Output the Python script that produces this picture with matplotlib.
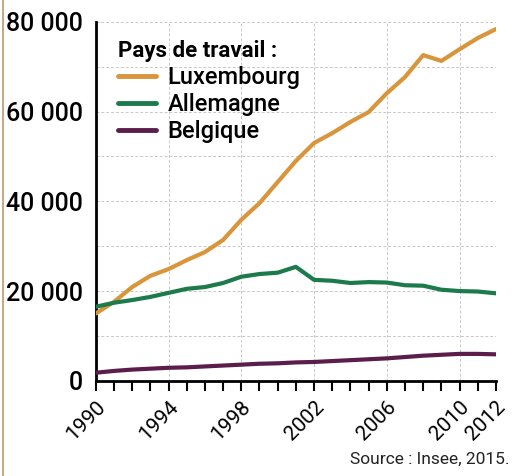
import numpy as np
import matplotlib.pyplot as plt
from matplotlib.ticker import FuncFormatter, MultipleLocator, FixedLocator
from matplotlib.lines import Line2D

plt.rcParams['font.family'] = ['Roboto', 'DejaVu Sans']

# Data (frontaliers by country of work)
years = list(range(1990, 2013))
luxembourg = [15000, 17600, 20900, 23400, 24900, 26900, 28700, 31400, 35900, 39600,
              44300, 49000, 53000, 55200, 57700, 59900, 64100, 67700, 72600, 71300,
              73900, 76400, 78400]
allemagne = [16500, 17400, 18000, 18700, 19600, 20500, 20900, 21800, 23200, 23800,
             24100, 25400, 22500, 22300, 21800, 22000, 21900, 21300, 21200, 20300,
             20000, 19900, 19500]
belgique = [1800, 2200, 2500, 2700, 2900, 3000, 3200, 3400, 3600, 3800,
            3900, 4100, 4200, 4400, 4600, 4800, 5000, 5300, 5600, 5800,
            6000, 6000, 5900]
year_ticks = [1990, 1994, 1998, 2002, 2006, 2010, 2012]
series_names = ['Luxembourg', 'Allemagne', 'Belgique']
COLORS = ['#d8953c', '#1d7a4b', '#5b1d4c']

fig = plt.figure(figsize=(5.15, 4.76), dpi=100)
ax = fig.add_axes([0.186, 0.2, 0.777, 0.754])

for vals, name, c in zip([luxembourg, allemagne, belgique], series_names, COLORS):
    ax.plot(years, vals, color=c, lw=3.0, label=name, solid_capstyle='round', zorder=3)

ax.set_xlim(1990, 2012)
ax.set_ylim(0, 80000)

ax.xaxis.set_major_locator(FixedLocator(year_ticks))
ax.xaxis.set_minor_locator(MultipleLocator(1))
ax.yaxis.set_major_locator(MultipleLocator(20000))
ax.yaxis.set_minor_locator(MultipleLocator(10000))
ax.yaxis.set_major_formatter(FuncFormatter(lambda v, p: f"{int(v):,}".replace(',', ' ')))

ax.grid(True, which='major', axis='x', color='#c8c8c8', ls='--', lw=0.7, dashes=(3, 2))
ax.grid(True, which='both', axis='y', color='#c8c8c8', ls='--', lw=0.7, dashes=(3, 2))

for s in ['top', 'right']:
    ax.spines[s].set_visible(False)
for s in ['left', 'bottom']:
    ax.spines[s].set_linewidth(2)

ax.tick_params(axis='y', which='both', length=0, labelsize=18, pad=9)
ax.tick_params(axis='x', which='both', length=7, width=1.5, direction='out', labelsize=15, pad=5)
for lab in ax.get_yticklabels():
    lab.set_fontweight('medium')
plt.setp(ax.get_xticklabels(), rotation=45, ha='right', rotation_mode='anchor')

leg = ax.legend(title='Pays de travail :', loc='upper left', frameon=False,
                fontsize=17, title_fontsize=16, handlelength=1.6, handletextpad=0.5,
                labelspacing=0.18, bbox_to_anchor=(0.02, 0.99), borderaxespad=0.2)
leg.get_title().set_fontweight('bold')
leg._legend_box.align = 'left'
for t in leg.get_texts():
    t.set_fontweight('medium')
for h in leg.legend_handles:
    h.set_linewidth(3.5)

fig.text(0.99, 0.02, 'Source : Insee, 2015.', ha='right', va='bottom', fontsize=12.5, color='#222222')

# scan frame on the left edge
fig.add_artist(Line2D([0.005, 0.005], [0.0, 1.0], color='#c9a98a', lw=1.5, transform=fig.transFigure))

fig.savefig('out.png', dpi=100)
